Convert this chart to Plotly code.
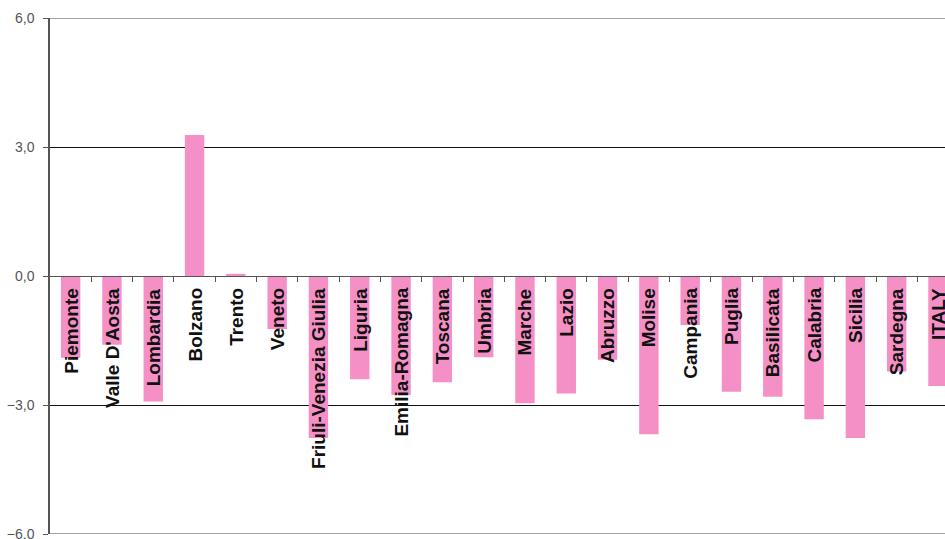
import plotly.graph_objects as go

regions = ["Piemonte", "Valle D'Aosta", "Lombardia", "Bolzano", "Trento", "Veneto",
           "Friuli-Venezia Giulia", "Liguria", "Emilia-Romagna", "Toscana", "Umbria",
           "Marche", "Lazio", "Abruzzo", "Molise", "Campania", "Puglia", "Basilicata",
           "Calabria", "Sicilia", "Sardegna", "ITALY"]
values = [-1.9, -1.6, -2.92, 3.28, 0.05, -1.23,
          -3.77, -2.4, -2.77, -2.47, -1.89,
          -2.96, -2.73, -1.95, -3.68, -1.14, -2.69, -2.81,
          -3.33, -3.77, -2.22, -2.56]
y_ticks = [-6, -3, 0, 3, 6]

BAR_COLOR = "#F590C6"
idx = list(range(len(regions)))

fig = go.Figure()
fig.add_trace(go.Bar(x=idx, y=values, marker=dict(color=BAR_COLOR, line=dict(width=0)),
                     width=0.47, hoverinfo="skip"))

# region names written vertically just under the zero line
for i, name in zip(idx, regions):
    fig.add_annotation(x=i, y=0, xref="x", yref="y", text=f"<b>{name}</b>",
                       textangle=-90, showarrow=False, yanchor="top", xanchor="center",
                       yshift=-10, font=dict(family="Liberation Sans, Arial", size=19, color="#111"))

# gray frame lines at the ends of the value range
for yv in (y_ticks[0], y_ticks[-1]):
    fig.add_shape(type="line", xref="paper", yref="y", x0=0, x1=1, y0=yv, y1=yv,
                  line=dict(color="#888", width=1.3))

fig.update_layout(
    width=945, height=539,
    margin=dict(l=50, r=0, t=18, b=5),
    plot_bgcolor="white", paper_bgcolor="white",
    separators=",.",
    showlegend=False,
    bargap=0.5,
    xaxis=dict(range=[-0.5, 21.17], anchor="free", position=0.5, automargin=False,
               showline=True, linecolor="#555", linewidth=1.3,
               tickmode="array", tickvals=[i + 0.5 for i in idx[:-1]], ticktext=[""] * (len(idx) - 1),
               ticks="outside", ticklen=5, tickcolor="#555", tickwidth=1.3,
               showgrid=False, zeroline=False, showticklabels=False),
    yaxis=dict(range=[-6, 6], tickvals=y_ticks, tickformat=".1f", automargin=False,
               showgrid=True, gridcolor="#111", gridwidth=1,
               zeroline=False, showline=True, linecolor="#555", linewidth=1.5,
               ticks="outside", ticklen=5, tickcolor="#555",
               ticklabelstandoff=6, ticklabeloverflow="allow",
               tickfont=dict(family="Liberation Sans, Arial", size=14, color="#555")),
)

fig.write_html("out.html")
